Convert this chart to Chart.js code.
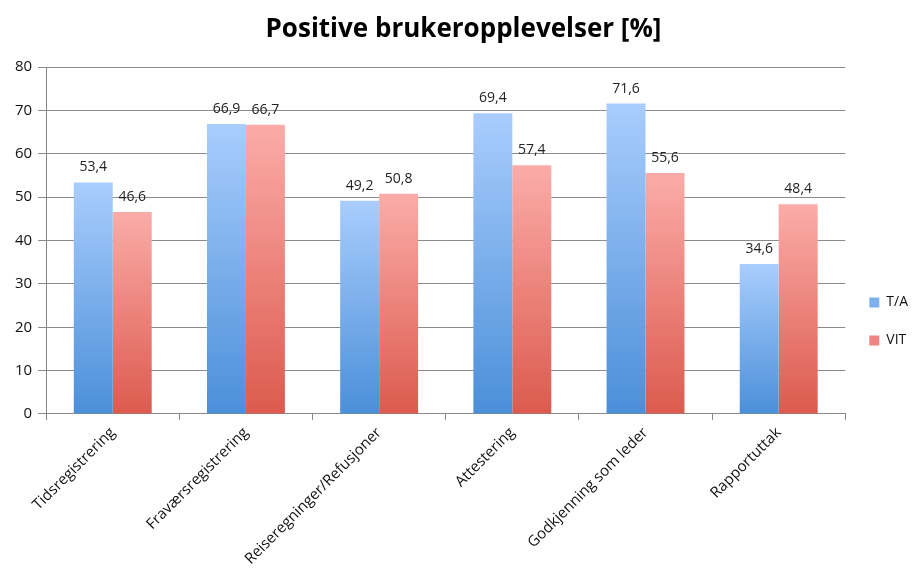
<!DOCTYPE html>
<html>
<head>
<meta charset="utf-8">
<script src="https://cdn.jsdelivr.net/npm/chart.js@4/dist/chart.umd.min.js"></script>
<style>
  html, body { margin: 0; padding: 0; background: #fff; }
  #wrap { width: 918px; height: 572px; position: relative; }
</style>
</head>
<body>
<div id="wrap"><canvas id="mainChart"></canvas></div>
<script>
// data
const kategorier = ['Tidsregistrering', 'Fraværsregistrering', 'Reiseregninger/Refusjoner', 'Attestering', 'Godkjenning som leder', 'Rapportuttak'];
const verdierTA = [53.4, 66.9, 49.2, 69.4, 71.6, 34.6];
const verdierVIT = [46.6, 66.7, 50.8, 57.4, 55.6, 48.4];
const yTicks = [0, 10, 20, 30, 40, 50, 60, 70, 80];

const FONT = "'Open Sans', 'Noto Sans', sans-serif";

// gradient per bar (light top, darker bottom)
function barGradient(top, bottom) {
  return (c) => {
    const chart = c.chart;
    const { ctx, chartArea, scales } = chart;
    if (!chartArea || c.type !== 'data') return bottom;
    const y0 = scales.y.getPixelForValue(0);
    const y1 = scales.y.getPixelForValue(c.raw);
    const g = ctx.createLinearGradient(0, y1, 0, y0);
    g.addColorStop(0, top);
    g.addColorStop(1, bottom);
    return g;
  };
}

// value labels over the bars, comma decimal
const verdiEtiketter = {
  id: 'verdiEtiketter',
  afterDatasetsDraw(chart) {
    const ctx = chart.ctx;
    ctx.save();
    ctx.font = `14px ${FONT}`;
    ctx.fillStyle = '#222';
    ctx.textAlign = 'center';
    ctx.textBaseline = 'bottom';
    chart.data.datasets.forEach((ds, i) => {
      chart.getDatasetMeta(i).data.forEach((bar, j) => {
        ctx.fillText(ds.data[j].toFixed(1).replace('.', ','), bar.x, bar.y - 8);
      });
    });
    ctx.restore();
  }
};

new Chart(document.getElementById('mainChart'), {
  type: 'bar',
  data: {
    labels: kategorier,
    datasets: [
      {
        label: 'T/A',
        data: verdierTA,
        backgroundColor: barGradient('#a9cdfd', '#4b8fd9'),
        legendColor: '#7fb0ee',
      },
      {
        label: 'VIT',
        data: verdierVIT,
        backgroundColor: barGradient('#fbaca8', '#dc5a4e'),
        legendColor: '#ee8580',
      },
    ],
  },
  options: {
    responsive: true,
    maintainAspectRatio: false,
    animation: false,
    layout: { padding: { top: 4, right: 0, left: 9, bottom: 0 } },
    datasets: {
      bar: { categoryPercentage: 0.585, barPercentage: 1.0 },
    },
    plugins: {
      title: {
        display: true,
        text: 'Positive brukeropplevelser [%]',
        color: '#000',
        font: { family: FONT, size: 26, weight: 'bold' },
        padding: { top: 10, bottom: 22 },
      },
      legend: {
        position: 'right',
        align: 'center',
        // empty title just pushes the items down a bit
        title: {
          display: true,
          text: ' ',
          font: { family: FONT, size: 14 },
          padding: { top: 25, bottom: 25 },
        },
        labels: {
          color: '#111',
          font: { family: FONT, size: 14 },
          boxWidth: 10,
          boxHeight: 10,
          padding: 24,
          generateLabels(chart) {
            return chart.data.datasets.map((ds, i) => ({
              text: ds.label,
              fillStyle: ds.legendColor,
              strokeStyle: ds.legendColor,
              fontColor: '#111',
              lineWidth: 0,
              hidden: false,
              datasetIndex: i,
            }));
          },
        },
      },
      tooltip: { enabled: false },
    },
    scales: {
      x: {
        grid: {
          offset: true,
          drawOnChartArea: false,
          drawTicks: true,
          tickLength: 6,
          color: '#888',
        },
        border: { color: '#888' },
        ticks: {
          color: '#111',
          font: { family: FONT, size: 15 },
          minRotation: 45,
          maxRotation: 45,
          padding: 4,
        },
      },
      y: {
        min: 0,
        max: 80,
        afterBuildTicks(axis) {
          axis.ticks = yTicks.map(v => ({ value: v }));
        },
        grid: { color: '#8c8c8c', tickLength: 8 },
        border: { color: '#888' },
        ticks: {
          color: '#111',
          font: { family: FONT, size: 15 },
          padding: 6,
        },
      },
    },
  },
  plugins: [verdiEtiketter],
});
</script>
</body>
</html>
